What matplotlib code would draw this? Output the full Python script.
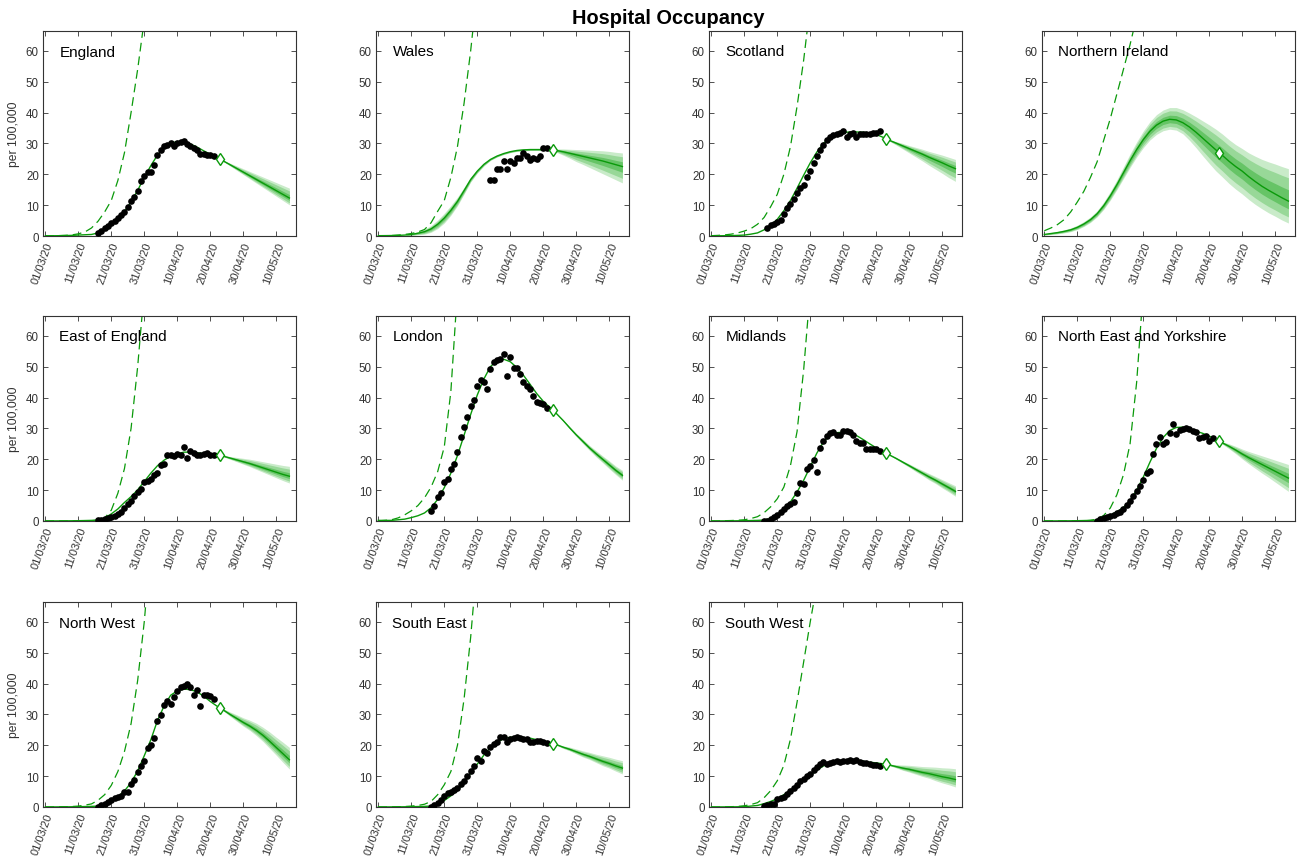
import matplotlib
matplotlib.use("Agg")
import matplotlib.pyplot as plt
import numpy as np

plt.rcParams["font.family"] = ["Liberation Sans", "DejaVu Sans"]

# days since 01/03/20
DAYS = np.arange(0, 75, 2)
XTICKS = [0, 10, 20, 30, 40, 50, 60, 70]
XTICK_LABELS = ["01/03/20", "11/03/20", "21/03/20", "31/03/20",
                "10/04/20", "20/04/20", "30/04/20", "10/05/20"]
YTICKS = [0, 10, 20, 30, 40, 50, 60]

REGIONS = ["England", "Wales", "Scotland", "Northern Ireland",
           "East of England", "London", "Midlands", "North East and Yorkshire",
           "North West", "South East", "South West"]

SMALL = [0.02, 0.03, 0.04, 0.05, 0.07, 0.1, 0.15, 0.2]

# central model fit, on DAYS
FIT = [
    [0.05, 0.07, 0.1, 0.15, 0.2, 0.3, 0.4, 0.5, 1.0, 2.2, 4.0, 5.8, 8.0, 11.0, 14.8, 19.0, 22.8, 26.2, 28.6,
     30.0, 30.6, 30.5, 29.8, 28.8, 27.6, 26.5, 25.4, 24.3, 23.1, 21.9, 20.7, 19.5, 18.3, 17.1, 15.9, 14.7, 13.5, 12.3],
    [0.1, 0.12, 0.15, 0.2, 0.3, 0.5, 0.9, 1.4, 2.3, 3.8, 5.8, 8.3, 11.2, 14.7, 18.3, 21, 23.2, 24.8, 25.9,
     26.7, 27.3, 27.7, 27.9, 28.0, 28.0, 28.0, 27.9, 27.7, 27.3, 26.8, 26.3, 25.8, 25.3, 24.8, 24.3, 23.7, 23.1, 22.5],
    [0.05, 0.07, 0.1, 0.12, 0.2, 0.3, 0.6, 1.0, 2.0, 3.4, 5.4, 8.2, 11.5, 15.5, 19.7, 23.7, 27.2, 30, 31.8,
     32.9, 33.5, 33.7, 33.7, 33.6, 33.4, 32.9, 32, 31.0, 30.1, 29.2, 28.3, 27.4, 26.5, 25.5, 24.6, 23.7, 22.7, 21.8],
    [0.5, 0.8, 1.1, 1.5, 2.0, 2.8, 3.9, 5.3, 7.2, 9.8, 13, 16.6, 20.5, 24.4, 28, 31.2, 33.9, 35.9, 37.2,
     37.8, 37.6, 36.7, 35.3, 33.6, 31.7, 29.8, 27.9, 26.1, 24.2, 22.5, 21.0, 19.2, 17.6, 16.1, 14.8, 13.6, 12.4, 11.3],
    SMALL + [0.3, 1.0, 2.3, 3.9, 6.0, 7.9, 10.1, 12.8, 15.5, 17.9, 19.7, 21, 21.8, 22.3, 22.3, 22.1, 21.8, 21.6,
             21.4, 21.0, 20.4, 19.8, 19.2, 18.6, 17.9, 17.2, 16.5, 15.8, 15.1, 14.5],
    [0.2, 0.2, 0.2, 0.4, 0.6, 1.1, 1.7, 2.6, 4.3, 7.0, 10.8, 15.5, 21.2, 27.8, 34.5, 40.8, 46.0, 50.0, 52.0,
     52.4, 51.6, 49.7, 47.2, 44.3, 41.3, 38.8, 36.8, 34.8, 32.6, 30.2, 27.9, 25.8, 23.7, 21.8, 20.0, 18.2, 16.4, 14.8],
    SMALL + [0.3, 0.8, 2.0, 3.8, 6.2, 9.4, 13.2, 17.6, 22.0, 25.6, 27.7, 28.6, 28.8, 28.6, 27.7, 26.4, 25, 23.7,
             22.5, 21.4, 20.3, 19.1, 17.9, 16.7, 15.5, 14.3, 13.2, 12, 10.8, 9.6],
    SMALL + [0.3, 0.9, 1.9, 3.0, 4.4, 6.6, 10.0, 14.2, 19.0, 23.5, 27.0, 29.3, 30.3, 30.4, 29.9, 29.1, 28.4, 27.5,
             26.4, 25.3, 24.2, 23.0, 21.7, 20.5, 19.4, 18.3, 17.2, 16.1, 15.0, 13.9],
    SMALL + [0.3, 0.9, 1.8, 3.3, 5.2, 7.9, 11.7, 16.6, 21.8, 28.0, 32.7, 36.2, 37.6, 38.2, 38, 37.3, 35.9, 34.2,
             32.7, 31.4, 30.0, 28.7, 27.4, 26.2, 24.8, 23.2, 21.3, 19.3, 17.3, 15.3],
    SMALL + [0.3, 1.0, 2.1, 3.6, 5.4, 7.9, 10.9, 13.9, 16.8, 19.3, 21, 22.1, 22.6, 22.7, 22.5, 22.3, 21.8, 21.4,
             20.9, 20.2, 19.4, 18.7, 17.9, 17.1, 16.4, 15.6, 14.8, 14.1, 13.3, 12.6],
    [0.02, 0.03, 0.04, 0.05, 0.07, 0.1, 0.3, 0.5, 1.1, 1.8, 2.7, 4, 5.4, 7, 8.6, 10.2, 11.9, 13.3, 14.1,
     14.5, 14.8, 14.9, 14.9, 14.8, 14.5, 14.3, 14.0, 13.6, 13.1, 12.6, 12.2, 11.7, 11.2, 10.8, 10.3, 9.8, 9.4, 8.9],
]

# outer credible band, distance above / below the fit, on DAYS
Z = [0] * 27
BAND_UP = [
    Z + [0.2, 0.5, 0.8, 1.1, 1.4, 1.7, 2.0, 2.3, 2.6, 2.9, 3.2],
    [0, 0, 0, 0, 0, 0.3, 0.5, 0.8, 1.1, 1.4, 1.6, 1.6, 1.4, 1.1, 0.8, 0.6, 0.5] + [0.3] * 10
    + [0.5, 0.9, 1.3, 1.7, 2.1, 2.5, 2.9, 3.3, 3.7, 4.0, 4.4],
    Z + [0.2, 0.5, 0.8, 1.0, 1.3, 1.6, 1.9, 2.2, 2.5, 2.8, 3.0],
    [0.2, 0.3, 0.4, 0.5, 0.6, 0.7, 0.8, 0.9, 1.0, 1.2, 1.4, 1.6, 1.9, 2.2, 2.5, 2.8, 3.1, 3.4, 3.6,
     3.8, 4.0, 4.2, 4.5, 5.0, 5.6, 6.2, 6.7, 6.9, 7.0, 7.1, 7.3, 7.7, 8.2, 8.7, 9.2, 9.7, 10.1, 10.5],
    Z + [0.2, 0.5, 0.8, 1.1, 1.4, 1.7, 2.0, 2.3, 2.6, 2.9, 3.2],
    Z + [0.1, 0.2, 0.4, 0.5, 0.7, 0.8, 1.0, 1.1, 1.3, 1.4, 1.6],
    Z + [0.1, 0.3, 0.4, 0.6, 0.7, 0.9, 1.1, 1.2, 1.4, 1.6, 1.8],
    Z + [0.4, 0.8, 1.2, 1.6, 2.0, 2.4, 2.8, 3.2, 3.6, 4.0, 4.4],
    Z + [0.4, 0.8, 1.2, 1.5, 1.9, 2.3, 2.6, 3.0, 3.3, 3.7, 4.0],
    Z + [0.2, 0.4, 0.7, 0.9, 1.1, 1.3, 1.5, 1.8, 2.0, 2.2, 2.4],
    Z + [0.3, 0.6, 1.0, 1.3, 1.6, 1.9, 2.2, 2.6, 2.9, 3.2, 3.5],
]
BAND_LO = [
    Z + [0.2, 0.4, 0.6, 0.8, 1.0, 1.2, 1.4, 1.6, 1.8, 2.0, 2.2],
    [0, 0, 0, 0, 0, 0.3, 0.5, 0.8, 1.1, 1.4, 1.6, 1.6, 1.4, 1.1, 0.8, 0.6, 0.5] + [0.3] * 10
    + [0.6, 1.1, 1.6, 2.2, 2.6, 3.1, 3.6, 4.1, 4.5, 4.9, 5.3],
    Z + [0.3, 0.6, 1.0, 1.4, 1.8, 2.2, 2.6, 3.0, 3.4, 3.8, 4.1],
    [0.2, 0.3, 0.4, 0.5, 0.6, 0.7, 0.8, 0.9, 1.0, 1.2, 1.4, 1.6, 1.9, 2.2, 2.4, 2.6, 2.8, 3.0, 3.1,
     3.2, 3.3, 3.6, 4.3, 5.0, 5.7, 6.3, 6.8, 7.0, 7.2, 7.3, 7.4, 7.4, 7.4, 7.3, 7.3, 7.2, 7.2, 7.1],
    Z + [0.2, 0.4, 0.6, 0.8, 1.0, 1.2, 1.4, 1.6, 1.8, 2.0, 2.2],
    Z + [0.1, 0.2, 0.4, 0.5, 0.7, 0.8, 1.0, 1.1, 1.3, 1.4, 1.6],
    Z + [0.1, 0.3, 0.4, 0.5, 0.7, 0.8, 1.0, 1.1, 1.3, 1.4, 1.6],
    Z + [0.4, 0.8, 1.2, 1.6, 2.0, 2.4, 2.8, 3.1, 3.5, 3.9, 4.3],
    Z + [0.3, 0.6, 0.9, 1.2, 1.4, 1.7, 2.0, 2.3, 2.5, 2.8, 3.0],
    Z + [0.2, 0.4, 0.5, 0.7, 0.9, 1.0, 1.2, 1.4, 1.5, 1.7, 1.9],
    Z + [0.2, 0.4, 0.7, 0.9, 1.1, 1.3, 1.5, 1.8, 2.0, 2.2, 2.4],
]
BAND_FRAC = [1.0, 0.72, 0.35]
BAND_COLORS = ["#c9ebc9", "#98d898", "#66c466"]

# unmitigated growth curve (dashed), on DAYS until it leaves the axes
EXPO = [
    [0.05, 0.08, 0.12, 0.2, 0.35, 0.7, 1.3, 2.6, 4.8, 7.8, 11.5, 18, 27, 40, 54, 70],
    [0.05, 0.1, 0.15, 0.3, 0.5, 0.8, 1.3, 2.1, 4.3, 8, 11.5, 19, 29, 43, 60, 80],
    [0.1, 0.2, 0.35, 0.6, 1.0, 1.6, 2.4, 3.8, 6, 9.5, 13.5, 20, 29, 42, 57, 75],
    [1.7, 2.6, 3.7, 5.3, 7.8, 11, 14.5, 19, 24, 31, 38, 46, 54, 62, 71],
    [0, 0, 0, 0, 0, 0, 0.05, 0.1, 0.3, 1.0, 3.5, 9, 17, 30, 50, 75],
    [0.05, 0.2, 0.4, 1.0, 2.0, 3.3, 5, 7.5, 11, 16, 24, 42, 75],
    [0, 0, 0.1, 0.15, 0.25, 0.4, 0.8, 1.4, 2.7, 4.6, 7.2, 11, 18, 29, 49, 75],
    [0, 0, 0, 0, 0, 0, 0.05, 0.2, 0.6, 1.8, 4.2, 8.5, 15, 25, 45, 75],
    [0, 0, 0.05, 0.1, 0.15, 0.3, 0.6, 1.0, 2.2, 4, 7, 11.5, 18, 27, 41, 60, 85],
    [0, 0, 0.05, 0.1, 0.15, 0.3, 0.5, 0.9, 1.8, 4, 7.2, 11.5, 20, 35, 55, 80],
    [0, 0, 0.05, 0.1, 0.2, 0.4, 0.8, 1.4, 3, 5.3, 8.5, 13.5, 22, 34, 47, 60, 72],
]

# observed daily occupancy per 100,000 (first day given in DATA_START)
DATA_START = [16, 34, 17, None, 16, 16, 16, 16, 16, 16, 16]
DATA = [
    [0.9, 1.6, 2.5, 3.3, 4.2, 5, 5.7, 6.8, 7.9, 9.3, 11.4, 12.5, 14.7, 17.9, 19.5, 20.6, 20.8, 23, 26.2,
     28, 29, 29.5, 30.1, 29.2, 30.2, 30.4, 30.9, 29.8, 29.2, 28.4, 27.9, 26.5, 26.5, 26.3, 26.1, 25.8],
    [18, 18, 21.8, 21.8, 24.2, 21.8, 24.2, 23.7, 25.3, 25.3, 27, 25.9, 24.5, 25.3, 25, 25.9, 28.6, 28.4],
    [2.5, 3.6, 4, 4.6, 5.3, 7, 9, 10.5, 12, 14, 15.4, 16.5, 19, 21, 23.5, 25.8, 27.8, 29.5, 31, 32,
     32.6, 33, 33.5, 33.9, 32.2, 33, 33.3, 32.2, 33.2, 33.2, 33.2, 33.1, 33.3, 33.4, 34],
    [],
    [0.2, 0.3, 0.6, 0.9, 1.3, 1.6, 2.3, 2.9, 4.3, 5.6, 6.5, 8, 9.5, 10.5, 12.5, 12.8, 13.5, 15, 15.5,
     18, 18.6, 21.3, 21.3, 21, 21.8, 21.5, 24, 20.4, 22.6, 22, 21.3, 21.3, 21.8, 22, 21.5, 21.3],
    [3.1, 5.0, 7.9, 9.2, 12.5, 13.6, 16.8, 18.4, 22.5, 27.1, 30.5, 33.8, 37.3, 39.2, 43.8, 45.6, 44.9,
     42.9, 49.2, 51.4, 52.2, 52.6, 54, 47, 53.2, 49.7, 49.7, 47.6, 45.1, 43.6, 42.7, 40.6, 38.6, 38.1, 37.9, 36.6],
    [0.05, 0.1, 0.5, 1.2, 2, 3, 3.8, 4.7, 5.5, 6.3, 9, 12.3, 12, 16.8, 17.9, 19.9, 15.9, 23.7, 25.9,
     27.5, 28.6, 28.8, 28, 27.7, 29.1, 29.1, 28.8, 28, 25.9, 25.3, 25.3, 23.2, 23.2, 23.4, 23.2, 22.6],
    [0.1, 0.5, 0.9, 1.2, 1.6, 2, 2.5, 3, 3.9, 5.2, 6.6, 8.2, 9.8, 11.2, 13.2, 15.5, 16.1, 21.7, 24.8,
     27.3, 24.8, 25.5, 28.4, 31.5, 28.3, 29.5, 29.9, 30.2, 29.7, 29.1, 28.8, 27, 27.3, 27.5, 25.9, 27],
    [0.1, 0.5, 1, 1.6, 2.3, 2.8, 3.2, 3.6, 4.7, 4.9, 7.4, 8.8, 11.2, 13.2, 15, 19, 20.1, 22.3, 28,
     29.9, 33.2, 34.2, 33.5, 35.7, 37.5, 38.9, 39.2, 39.7, 38.9, 36.4, 37.8, 32.7, 36.4, 36.4, 36, 35.1],
    [0.1, 0.5, 1.4, 2.3, 3.6, 4.5, 4.7, 5.4, 6.3, 7.4, 8.5, 10.1, 11.7, 13.4, 15.9, 15, 18, 17.5, 19.3,
     20.4, 21, 22.6, 22.6, 21.2, 22.1, 22.3, 22.6, 22.3, 22.1, 22.1, 21, 21, 21.3, 21.5, 21, 20.8],
    [0.3, 0.7, 1.1, 1.1, 2.5, 2.9, 3.2, 4.1, 5.1, 6.1, 7, 8.3, 9.2, 10.2, 10.8, 11.9, 12.9, 14, 14.5,
     14, 14.3, 14.5, 14.8, 14.5, 14.8, 14.9, 15.1, 14.9, 15.1, 14.5, 14.3, 14.2, 14, 13.7, 13.5, 13.2],
]

# latest estimate (23/04/20)
DIAMOND_DAY = 53
DIAMOND = [24.9, 27.8, 31.5, 27.0, 21.3, 36.0, 22.1, 25.9, 32.1, 20.4, 13.8]

GREEN = "#0a9a0a"
AXCOL = "#333333"

W, H = 1302, 862
fig = plt.figure(figsize=(W / 100, H / 100), dpi=100)
lefts = [43, 376, 709, 1042]
bottoms = [H - 237, H - 522, H - 808]
aw, ah = 253, 205

for i, name in enumerate(REGIONS):
    row, col = divmod(i, 4)
    ax = fig.add_axes([lefts[col] / W, bottoms[row] / H, aw / W, ah / H])
    fit = np.array(FIT[i])
    up = np.array(BAND_UP[i])
    lo = np.array(BAND_LO[i])
    for frac, c in zip(BAND_FRAC, BAND_COLORS):
        ax.fill_between(DAYS, np.maximum(fit - frac * lo, 0), fit + frac * up,
                        color=c, linewidth=0, zorder=1)
    ax.plot(DAYS, fit, color=GREEN, lw=1.0, zorder=3)
    ex = EXPO[i]
    ax.plot(DAYS[:len(ex)], ex, color=GREEN, lw=0.9, dashes=(7, 4), zorder=2)
    if DATA[i]:
        dd = np.arange(DATA_START[i], DATA_START[i] + len(DATA[i]))
        ax.plot(dd, DATA[i], "o", color="black", ms=4.8, mew=0, zorder=4)
    ax.plot([DIAMOND_DAY], [DIAMOND[i]], "d", ms=6.5, mfc="white", mec=GREEN,
            mew=1.0, zorder=5)

    ax.set_xlim(-0.7, 76)
    ax.set_ylim(0, 66.4)
    ax.set_xticks(XTICKS)
    ax.set_xticklabels(XTICK_LABELS, rotation=70, ha="right",
                       rotation_mode="anchor", fontsize=8, color=AXCOL)
    ax.set_yticks(YTICKS)
    ax.tick_params(axis="y", labelsize=8.3, labelcolor=AXCOL)
    ax.tick_params(direction="in", top=True, right=True, length=3.5,
                   width=0.6, color=AXCOL, pad=3)
    for s in ax.spines.values():
        s.set_color(AXCOL)
        s.set_linewidth(0.8)
    ax.text(0.065, 0.9, name, transform=ax.transAxes, fontsize=11,
            va="center", ha="left", color="black")
    if col == 0:
        ax.set_ylabel("per 100,000", fontsize=8.7, color=AXCOL, labelpad=4)

fig.text(668 / W, 1 - 18 / H, "Hospital Occupancy", ha="center", va="center",
         fontsize=14.4, fontweight="bold")

fig.savefig("out.png", dpi=100)
